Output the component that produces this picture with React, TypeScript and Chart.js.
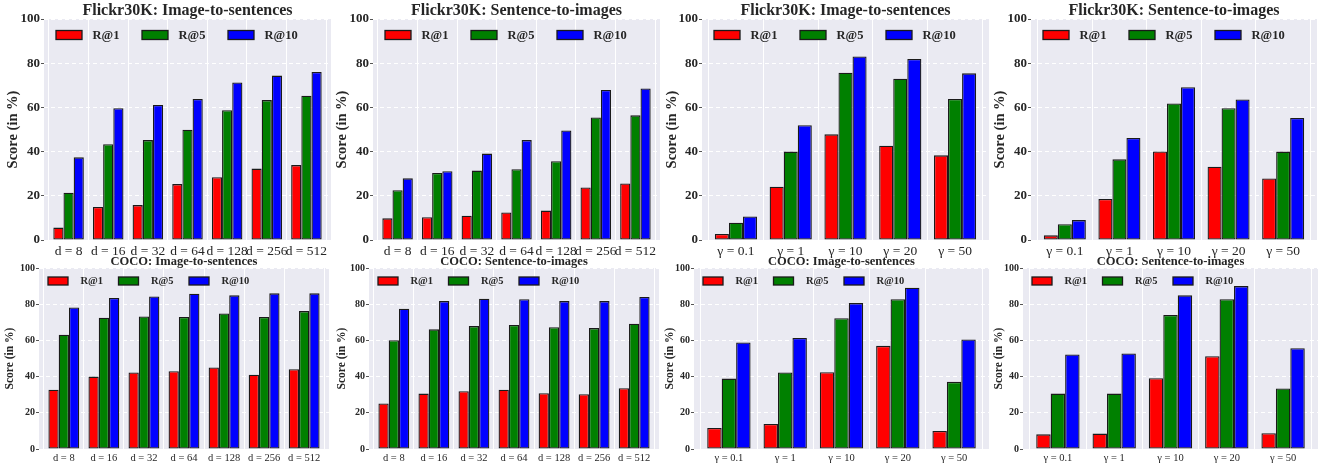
import React, { useEffect, useRef } from 'react';
import { Chart, registerables } from 'chart.js';

Chart.register(...registerables);

// ---------- data ----------
const dimLabels = ['d = 8', 'd = 16', 'd = 32', 'd = 64', 'd = 128', 'd = 256', 'd = 512'];
const gammaLabels = ['γ = 0.1', 'γ = 1', 'γ = 10', 'γ = 20', 'γ = 50'];
const seriesNames = ['R@1', 'R@5', 'R@10'];
const yTickValues = [0, 20, 40, 60, 80, 100];

// Flickr30K, varying embedding dimension d
const flickrDimI2S_R1 = [5.6, 14.9, 15.8, 25.3, 28.4, 32.3, 33.9];
const flickrDimI2S_R5 = [21.4, 43.3, 45.2, 49.9, 58.7, 63.3, 65.3];
const flickrDimI2S_R10 = [37.4, 59.6, 61.1, 63.8, 71.3, 74.4, 76.0];

const flickrDimS2I_R1 = [9.8, 10.3, 11.0, 12.5, 13.3, 23.8, 25.6];
const flickrDimS2I_R5 = [22.5, 30.3, 31.4, 32.0, 35.6, 55.4, 56.4];
const flickrDimS2I_R10 = [27.9, 31.1, 39.1, 45.2, 49.6, 67.9, 68.6];

// Flickr30K, varying gamma
const flickrGamI2S_R1 = [2.7, 24.1, 47.8, 42.7, 38.3];
const flickrGamI2S_R5 = [7.8, 40.0, 75.7, 73.0, 63.8];
const flickrGamI2S_R10 = [10.6, 51.9, 83.0, 81.9, 75.4];

const flickrGamS2I_R1 = [2.1, 18.6, 40.1, 33.2, 27.8];
const flickrGamS2I_R5 = [7.1, 36.5, 61.8, 59.6, 40.0];
const flickrGamS2I_R10 = [9.0, 46.2, 69.1, 63.6, 55.2];

// COCO, varying embedding dimension d
const cocoDimI2S_R1 = [32.7, 40.0, 42.3, 43.0, 45.0, 41.0, 44.1];
const cocoDimI2S_R5 = [63.1, 72.5, 73.2, 72.9, 74.9, 72.9, 76.2];
const cocoDimI2S_R10 = [78.2, 83.4, 84.3, 85.8, 84.9, 86.0, 86.0];

const cocoDimS2I_R1 = [25.1, 30.6, 31.9, 32.8, 30.8, 30.3, 33.6];
const cocoDimS2I_R5 = [60.1, 66.1, 67.9, 68.5, 67.3, 66.8, 69.2];
const cocoDimS2I_R10 = [77.5, 81.7, 83.0, 82.7, 81.7, 81.7, 84.0];

// COCO, varying gamma
const cocoGamI2S_R1 = [11.6, 13.8, 42.4, 57.0, 10.0];
const cocoGamI2S_R5 = [38.9, 42.3, 72.3, 82.8, 37.1];
const cocoGamI2S_R10 = [58.9, 61.3, 80.6, 89.1, 60.5];

const cocoGamS2I_R1 = [8.1, 8.5, 39.1, 51.3, 8.7];
const cocoGamS2I_R5 = [30.6, 30.6, 74.0, 82.8, 33.4];
const cocoGamS2I_R10 = [52.2, 52.8, 84.9, 90.0, 55.7];

// ---------- styles / layout ----------
const seriesColors = ['#ff0000', '#008000', '#0000ff'];
const FONT = '"Liberation Serif", "Times New Roman", serif';
const TEXT = '#262626';
const EDGE = '#1a1a1a';
const BG = '#eaeaf2';
const XPAD = 0.62;

const rows = [
  {
    top: 0, height: 262, axisW: 44, xAxisH: 22, padRight: 2,
    titleSize: 16, titlePadTop: 3, tickSize: 13, xTickSize: 13.5, yTitleSize: 14.5,
    legend: { offX: 12, offY: 16, boxW: 26, boxH: 9, step: 86, gap: 10.5, font: 12.5 },
  },
  {
    top: 250, height: 215, axisW: 39, xAxisH: 16, padRight: 2,
    titleSize: 12.5, titlePadTop: 5.5, tickSize: 10, xTickSize: 10.5, yTitleSize: 11.5,
    legend: { offX: 9, offY: 13, boxW: 20, boxH: 8, step: 70.5, gap: 12.5, font: 10.5 },
  },
];

const panels = [
  { row: 0, title: 'Flickr30K: Image-to-sentences', labels: dimLabels, series: [flickrDimI2S_R1, flickrDimI2S_R5, flickrDimI2S_R10], left: 44, right: 331, yDist: 31 },
  { row: 0, title: 'Flickr30K: Sentence-to-images', labels: dimLabels, series: [flickrDimS2I_R1, flickrDimS2I_R5, flickrDimS2I_R10], left: 373, right: 660, yDist: 30.5 },
  { row: 0, title: 'Flickr30K: Image-to-sentences', labels: gammaLabels, series: [flickrGamI2S_R1, flickrGamI2S_R5, flickrGamI2S_R10], left: 702, right: 989, yDist: 30 },
  { row: 0, title: 'Flickr30K: Sentence-to-images', labels: gammaLabels, series: [flickrGamS2I_R1, flickrGamS2I_R5, flickrGamS2I_R10], left: 1031, right: 1317, yDist: 30.5 },
  { row: 1, title: 'COCO: Image-to-sentences', labels: dimLabels, series: [cocoDimI2S_R1, cocoDimI2S_R5, cocoDimI2S_R10], left: 39, right: 329, yDist: 29 },
  { row: 1, title: 'COCO: Sentence-to-images', labels: dimLabels, series: [cocoDimS2I_R1, cocoDimS2I_R5, cocoDimS2I_R10], left: 369, right: 659, yDist: 27 },
  { row: 1, title: 'COCO: Image-to-sentences', labels: gammaLabels, series: [cocoGamI2S_R1, cocoGamI2S_R5, cocoGamI2S_R10], left: 694, right: 989, yDist: 24 },
  { row: 1, title: 'COCO: Sentence-to-images', labels: gammaLabels, series: [cocoGamS2I_R1, cocoGamS2I_R5, cocoGamS2I_R10], left: 1023, right: 1318, yDist: 24 },
];

const bgPlugin = {
  id: 'axesBackground',
  beforeDraw(chart: any) {
    const { ctx, chartArea: a } = chart;
    ctx.save();
    ctx.fillStyle = BG;
    ctx.fillRect(a.left, a.top, a.right - a.left, a.bottom - a.top);
    ctx.restore();
  },
};

function makeLegendPlugin(lg: any) {
  return {
    id: 'innerLegend',
    afterDatasetsDraw(chart: any) {
      const { ctx, chartArea: a } = chart;
      ctx.save();
      ctx.font = `bold ${lg.font}px ${FONT}`;
      ctx.textBaseline = 'middle';
      ctx.textAlign = 'left';
      chart.data.datasets.forEach((ds: any, i: number) => {
        const x = a.left + lg.offX + i * lg.step;
        const yc = a.top + lg.offY;
        ctx.fillStyle = ds.backgroundColor;
        ctx.fillRect(x, yc - lg.boxH / 2, lg.boxW, lg.boxH);
        ctx.strokeStyle = EDGE;
        ctx.lineWidth = 1.3;
        ctx.strokeRect(x, yc - lg.boxH / 2, lg.boxW, lg.boxH);
        ctx.fillStyle = TEXT;
        ctx.fillText(ds.label, x + lg.boxW + lg.gap, yc + 0.5);
      });
      ctx.restore();
    },
  };
}

function Panel({ cfg }: { cfg: any }) {
  const ref = useRef<HTMLCanvasElement>(null);
  const row = rows[cfg.row];
  const canvasLeft = cfg.left - row.axisW;
  const width = cfg.right - canvasLeft + row.padRight;

  useEffect(() => {
    if (!ref.current) return;
    const labels: string[] = cfg.labels;
    const n = labels.length;
    const chart = new Chart(ref.current, {
      type: 'bar',
      data: {
        datasets: cfg.series.map((vals: number[], si: number) => ({
          label: seriesNames[si],
          data: vals.map((v, i) => ({ x: i, y: v })),
          backgroundColor: seriesColors[si],
          borderColor: EDGE,
          borderWidth: 1.3,
          borderSkipped: false,
          categoryPercentage: 0.77,
          barPercentage: 1,
        })),
      },
      options: {
        responsive: false,
        animation: false,
        devicePixelRatio: 1,
        layout: { padding: { left: 0, right: row.padRight, top: 0, bottom: 0 } },
        plugins: {
          legend: { display: false },
          tooltip: { enabled: false },
          title: {
            display: true,
            text: cfg.title,
            fullSize: false,
            color: TEXT,
            font: { family: FONT, weight: 'bold', size: row.titleSize, lineHeight: 1 },
            padding: { top: row.titlePadTop, bottom: 0 },
          },
        },
        scales: {
          x: {
            type: 'linear',
            min: -XPAD,
            max: n - 1 + XPAD,
            offset: false,
            afterBuildTicks: (s: any) => {
              s.ticks = labels.map((_, i) => ({ value: i }));
            },
            afterFit: (s: any) => {
              s.height = row.xAxisH;
            },
            ticks: {
              autoSkip: false,
              maxRotation: 0,
              minRotation: 0,
              padding: 1,
              color: TEXT,
              font: { family: FONT, size: row.xTickSize },
              callback: (v: any) => labels[v] ?? '',
            },
            grid: { color: '#ffffff', lineWidth: 1, tickLength: 2, tickColor: 'rgba(0,0,0,0)' },
            border: { display: false },
          },
          y: {
            min: 0,
            max: 100,
            afterBuildTicks: (s: any) => {
              s.ticks = yTickValues.map((v) => ({ value: v }));
            },
            afterFit: (s: any) => {
              s.width = row.axisW;
            },
            ticks: {
              padding: 1,
              color: TEXT,
              font: { family: FONT, size: row.tickSize, weight: 'bold' },
            },
            grid: { color: '#ffffff', lineWidth: 1, tickLength: 3, tickColor: '#555555' },
            border: { display: false, dash: [4, 3] },
            title: {
              display: true,
              text: 'Score (in %)',
              color: TEXT,
              font: { family: FONT, size: row.yTitleSize, weight: 'bold' },
              padding: { top: Math.max(0, row.axisW - cfg.yDist - (row.yTitleSize * 1.2) / 2), bottom: 0 },
            },
          },
        },
      } as any,
      plugins: [bgPlugin, makeLegendPlugin(row.legend)],
    });
    return () => chart.destroy();
  }, []);

  return (
    <canvas
      ref={ref}
      width={width}
      height={row.height}
      style={{ position: 'absolute', left: canvasLeft, top: row.top, width, height: row.height }}
    />
  );
}

export default function App() {
  return (
    <div style={{ position: 'fixed', left: 0, top: 0, width: 1322, height: 465, background: '#ffffff', overflow: 'hidden' }}>
      {panels.map((p, i) => (
        <Panel key={i} cfg={p} />
      ))}
    </div>
  );
}
